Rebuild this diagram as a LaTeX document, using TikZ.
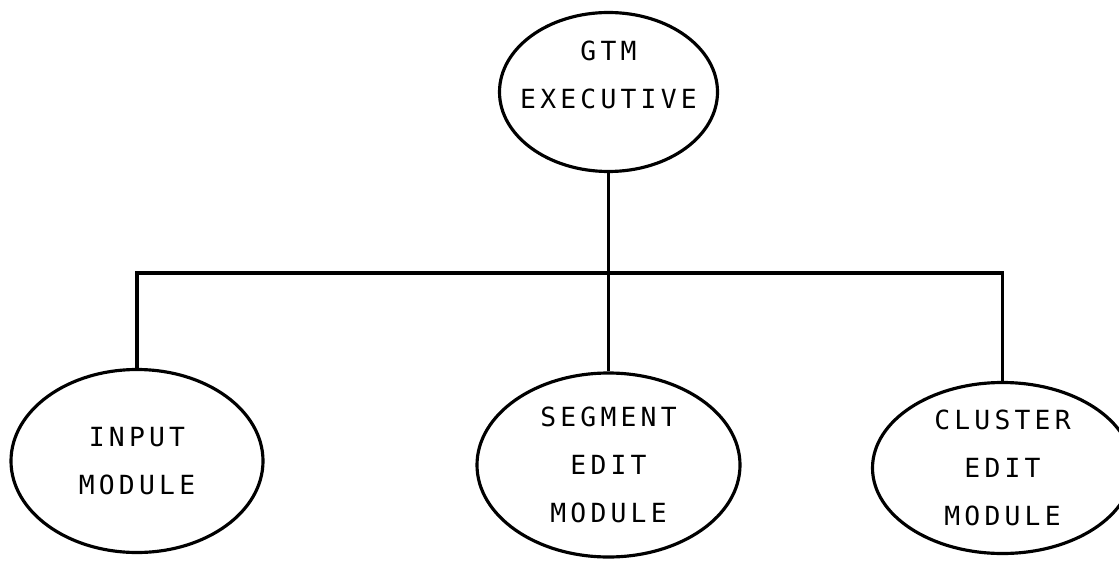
\documentclass[tikz,border=0pt]{standalone}
\usepackage{fontspec}
\setmonofont{DejaVu Sans Mono}[LetterSpace=16]
\usepackage{tikz}
\usetikzlibrary{shapes,positioning,calc}

\begin{document}
\begin{tikzpicture}[
            module/.style={ellipse, draw, line width=1.8pt, align=center, inner sep=0pt,
                           font=\ttfamily\fontsize{15}{27.5}\selectfont},
            link/.style={line width=1.8pt}]
            \useasboundingbox (0,0) rectangle (22.38,11.28);

            % Nodes
            \node[module, inner xsep=-0.4cm, text depth=0.7cm, minimum width=4.36cm, minimum height=3.18cm] (exec) at (12.17,9.44) {GTM\\EXECUTIVE};
            \node[module, minimum width=5.04cm, minimum height=3.66cm] (input) at (2.74,2.06) {INPUT\\MODULE};
            \node[module, minimum width=5.26cm, minimum height=3.68cm] (segment) at (12.17,1.98) {SEGMENT\\EDIT\\MODULE};
            \node[module, minimum width=5.2cm, minimum height=3.42cm] (cluster) at (20.05,1.92) {CLUSTER\\EDIT\\MODULE};
            \coordinate (bus) at (0,5.82);

            % Edges
            \draw[link] (exec) -- (segment);
            \draw[link] (input) -- (input |- bus) -- (cluster |- bus) -- (cluster);
        \end{tikzpicture}
\end{document}
